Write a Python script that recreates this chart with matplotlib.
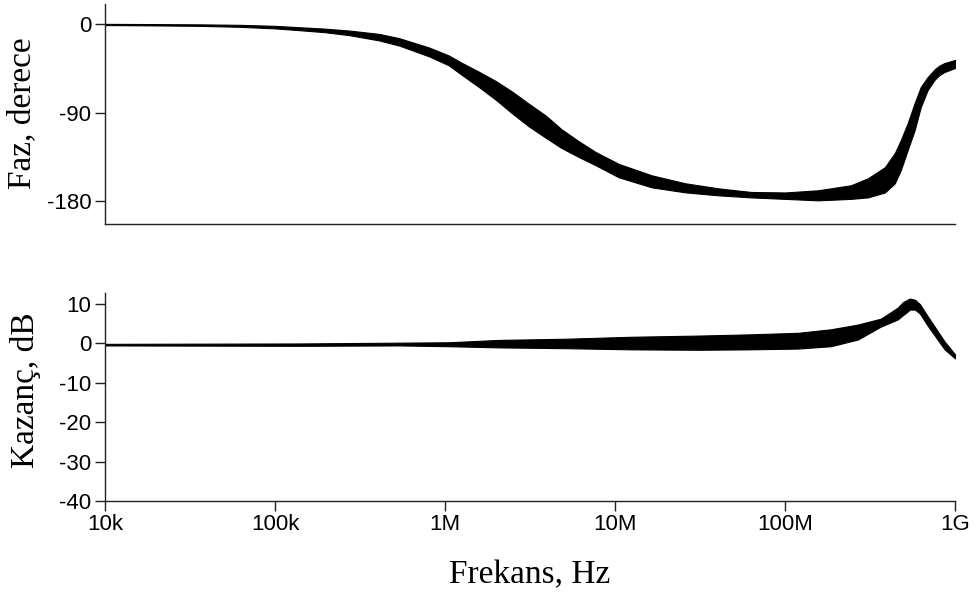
import numpy as np
import matplotlib.pyplot as plt

# phase band (degrees), upper / lower edge of the bundle of curves
phase_freq = [1e4, 1.8e4, 3.6e4, 6.2e4, 1e5, 1.39e5, 1.95e5, 2.74e5, 4.1e5, 5.37e5,
              8.06e5, 1.05e6, 1.26e6, 1.58e6, 1.99e6, 2.47e6, 3.11e6, 3.91e6, 4.85e6,
              6.11e6, 7.69e6, 1.05e7, 1.64e7, 2.59e7, 4.04e7, 6.31e7, 1e8, 1.56e8,
              2.44e8, 3.07e8, 3.86e8, 4.42e8, 4.79e8, 5.26e8, 5.78e8, 6.28e8, 6.9e8,
              7.59e8, 8.1e8, 8.67e8, 1e9]
phase_hi = [0.0, -0.2, -0.5, -1.0, -2.0, -3.4, -4.8, -6.8, -10.2, -14.5,
            -24.0, -32.0, -39.7, -48.5, -58.0, -68.5, -81.0, -93.0, -107.0,
            -119.0, -130.0, -142.0, -153.6, -161.7, -166.8, -170.5, -171.0, -168.8,
            -163.7, -156.6, -145.4, -131.0, -118.0, -100.7, -80.3, -64.0, -53.9,
            -46.0, -42.2, -39.7, -36.6]
phase_lo = [-1.2, -1.5, -2.0, -3.0, -4.6, -6.4, -8.4, -11.5, -16.8, -22.0,
            -33.0, -42.0, -52.0, -64.0, -77.0, -90.5, -104.0, -115.5, -126.0,
            -135.0, -143.4, -155.6, -165.8, -170.9, -173.9, -176.0, -177.5, -179.0,
            -177.5, -176.0, -171.0, -161.7, -148.4, -128.0, -107.8, -84.4, -67.0,
            -56.5, -51.8, -48.8, -44.7]

# gain band (dB)
gain_freq = [1e4, 1.39e5, 5.37e5, 1.05e6, 2.07e6, 5.13e6, 1.25e7, 3.09e7, 6.07e7,
             1.19e8, 1.86e8, 2.68e8, 3.66e8, 4.6e8, 4.94e8, 5.29e8, 5.41e8, 5.8e8,
             6.2e8, 6.9e8, 8.67e8, 1e9]
gain_hi = [-0.1, 0.0, 0.2, 0.3, 0.9, 1.2, 1.7, 2.0, 2.3, 2.7, 3.6, 4.8, 6.3, 9.1,
           10.5, 11.2, 11.4, 11.1, 10.0, 6.9, 0.5, -2.8]
gain_lo = [-0.5, -0.6, -0.5, -0.7, -1.0, -1.2, -1.5, -1.6, -1.5, -1.3, -0.7, 1.0,
           4.3, 6.1, 7.2, 8.2, 8.6, 8.6, 7.6, 4.5, -1.5, -3.8]

x_ticks = [1e4, 1e5, 1e6, 1e7, 1e8, 1e9]
x_labels = ['10k', '100k', '1M', '10M', '100M', '1G']

sans = 'Liberation Sans'
serif = 'Liberation Serif'

fig = plt.figure(figsize=(9.78, 5.92), dpi=100)
ax1 = fig.add_axes([0.1074, 0.6216, 0.8692, 0.3714])
ax2 = fig.add_axes([0.1074, 0.1537, 0.8692, 0.3513])

ax1.fill_between(phase_freq, phase_lo, phase_hi, color='black', lw=0.8)
ax2.fill_between(gain_freq, gain_lo, gain_hi, color='black', lw=0.8)

for ax in (ax1, ax2):
    ax.set_xscale('log')
    ax.set_xlim(1e4, 1e9)
    for s in ('top', 'right'):
        ax.spines[s].set_visible(False)
    for s in ('left', 'bottom'):
        ax.spines[s].set_color('#222222')
        ax.spines[s].set_linewidth(1.0)
    ax.tick_params(axis='y', direction='out', length=7, width=1, color='#222222',
                   pad=3)

ax1.set_ylim(-203, 20)
ax1.set_yticks([0, -90, -180])
ax1.set_yticklabels(['0', '-90', '-180'], family=sans, fontsize=16)
ax1.tick_params(axis='x', which='both', bottom=False, labelbottom=False)

ax2.set_ylim(-40, 12.8)
ax2.set_yticks([10, 0, -10, -20, -30, -40])
ax2.set_yticklabels(['10', '0', '-10', '-20', '-30', '-40'], family=sans, fontsize=16)
ax2.set_xticks(x_ticks)
ax2.set_xticklabels(x_labels, family=sans, fontsize=16)
ax2.tick_params(axis='x', which='minor', bottom=False)
ax2.tick_params(axis='x', which='major', direction='out', length=7, width=1,
                color='#222222', pad=2)

fig.text(0.023, 0.808, 'Faz, derece', rotation=90, ha='center', va='center',
         family=serif, fontsize=24)
fig.text(0.026, 0.341, 'Kazanç, dB', rotation=90, ha='center', va='center',
         family=serif, fontsize=24)
fig.text(0.542, 0.029, 'Frekans, Hz', ha='center', va='center',
         family=serif, fontsize=24)

fig.savefig('out.png', dpi=100)
